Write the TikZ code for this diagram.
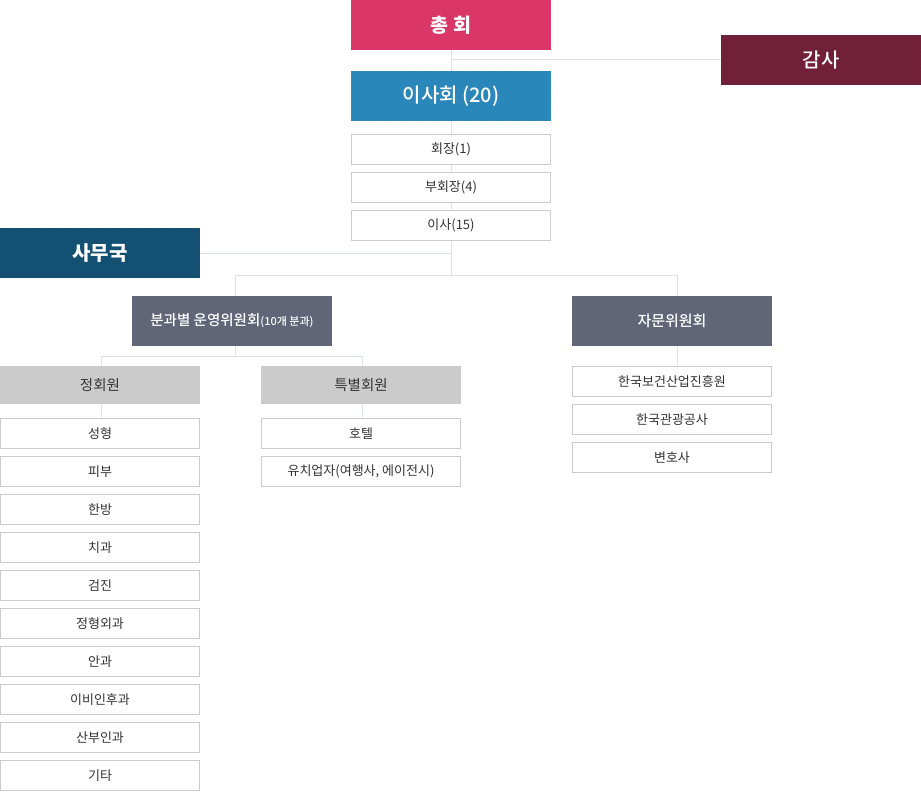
\documentclass[tikz,border=0pt]{standalone}
\usepackage{fontspec}
\setmainfont{Noto Sans CJK KR}
\newfontface\krmed{Noto Sans CJK KR Medium}
\usetikzlibrary{backgrounds}
\definecolor{cPink}{HTML}{E0386A}
\definecolor{cMaroon}{HTML}{74213A}
\definecolor{cBlue}{HTML}{2C8BC0}
\definecolor{cNavy}{HTML}{145376}
\definecolor{cSlate}{HTML}{606577}
\definecolor{cGrayHead}{HTML}{CBCBCB}
\definecolor{cBorder}{HTML}{CCCCCC}
\definecolor{cLine}{HTML}{DCE2E7}
\definecolor{cText}{HTML}{333333}
\tikzset{
  topbox/.style={minimum width=200pt, minimum height=50pt, inner sep=0pt, text=white},
  hatch/.style={fill=#1, path picture={
      \clip ([shift={(1pt,-1pt)}]path picture bounding box.north west) rectangle
            ([shift={(-1pt,1pt)}]path picture bounding box.south east);
      \foreach \k in {-16,...,70}
        \draw[#1!93!black, line width=0.7pt]
          ([xshift=\k*3.2pt]path picture bounding box.north west) -- ++(60pt,-60pt);}},
  headbox/.style={minimum width=200pt, minimum height=38pt, inner sep=0pt, fill=cGrayHead, text=cText, font=\fontsize{14.5}{16}\selectfont},
  itembox/.style={draw=cBorder, line width=1.2pt, fill=white, minimum width=199pt, minimum height=30.5pt, inner sep=0pt, text=cText, font=\fontsize{13}{15}\selectfont},
  conn/.style={draw=cLine, line width=1pt},
}
\begin{document}
\begin{tikzpicture}[x=1pt,y=-1pt]
\useasboundingbox (0,0) rectangle (921,792);
% top-level
\node[topbox, hatch=cPink, font=\bfseries\fontsize{19.5}{21}\selectfont] (chonghoe) at (451,25) {총 회};
\node[topbox, hatch=cMaroon, font=\krmed\fontsize{20}{22}\selectfont] (gamsa) at (821,60) {감사};
\node[topbox, hatch=cBlue, font=\krmed\fontsize{20}{22}\selectfont] (isahoe) at (451,96) {이사회 (20)};
\node[itembox] (hoejang) at (451,149.5) {회장(1)};
\node[itembox] (buhoejang) at (451,187.5) {부회장(4)};
\node[itembox] (isa) at (451,225.5) {이사(15)};
\node[topbox, hatch=cNavy, font=\bfseries\fontsize{20}{22}\selectfont] (samu) at (100,253) {사무국};
% committees
\node[topbox, fill=cSlate, font=\krmed\fontsize{14.5}{16}\selectfont] (bunkwa) at (232,321) {분과별 운영위원회{\fontsize{11}{13}\selectfont(10개 분과)}};
\node[topbox, fill=cSlate, font=\krmed\fontsize{15}{17}\selectfont] (jamun) at (672,321) {자문위원회};
% members
\node[headbox] (jung) at (100,385) {정회원};
\node[headbox] (teuk) at (361,385) {특별회원};
\foreach \t [count=\i from 0] in {성형,피부,한방,치과,검진,정형외과,안과,이비인후과,산부인과,기타}
  \node[itembox] (jung\i) at (100,{433.5+38*\i}) {\t};
\node[itembox] (teuk0) at (361,433.5) {호텔};
\node[itembox] (teuk1) at (361,471.5) {유치업자(여행사, 에이전시)};
\node[itembox] (jamun0) at (672,381.5) {한국보건산업진흥원};
\node[itembox] (jamun1) at (672,419.5) {한국관광공사};
\node[itembox] (jamun2) at (672,457.5) {변호사};
% junctions
\coordinate (j1) at (451,275);
\coordinate (jb) at (235,275);
\coordinate (jj) at (677,275);
\coordinate (j2) at (235,356);
\coordinate (ja) at (101,356);
\coordinate (jt) at (362,356);
% connectors
\begin{scope}[on background layer]
\draw[conn] (chonghoe.south) -- (isahoe.north);
\draw[conn] (gamsa.west) -- (gamsa.west -| chonghoe.south);
\draw[conn] (isahoe.south) -- (j1);
\draw[conn] (samu.east) -- (samu.east -| isa.south);
\draw[conn] (jb) -- (jj);
\draw[conn] (jb) -- (jb |- bunkwa.north);
\draw[conn] (jj) -- (jj |- jamun.north);
\draw[conn] (j2 |- bunkwa.south) -- (j2);
\draw[conn] (ja) -- (jt);
\draw[conn] (ja) -- (ja |- jung.north);
\draw[conn] (jt) -- (jt |- teuk.north);
\draw[conn] (ja |- jung.south) -- (ja |- jung0.north);
\draw[conn] (jt |- teuk.south) -- (jt |- teuk0.north);
\draw[conn] (jj |- jamun.south) -- (jj |- jamun0.north);
\end{scope}
\end{tikzpicture}
\end{document}
